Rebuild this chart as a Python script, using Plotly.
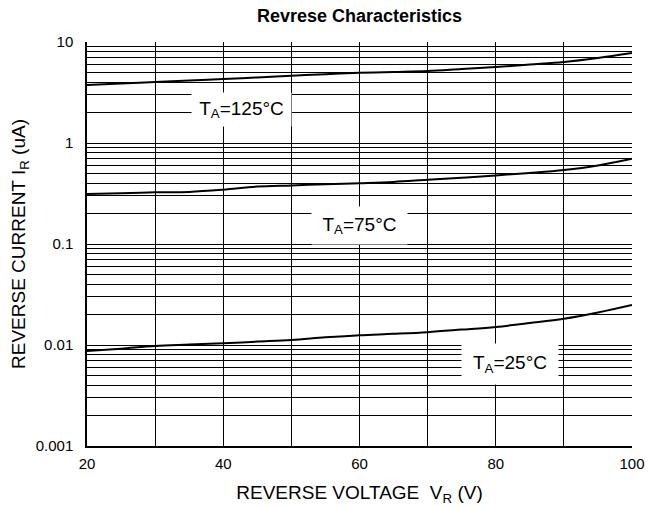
import plotly.graph_objects as go

# Data
vr = [20, 25, 30, 35, 40, 45, 50, 55, 60, 65, 70, 75, 80, 85, 90, 95, 100]
ir_125 = [3.75, 3.88, 4.02, 4.15, 4.30, 4.46, 4.64, 4.80, 4.95, 5.05, 5.16, 5.40, 5.65, 5.98, 6.34, 6.95, 7.78]
ir_75 = [0.313, 0.318, 0.325, 0.328, 0.345, 0.370, 0.380, 0.390, 0.400, 0.412, 0.432, 0.452, 0.478, 0.505, 0.540, 0.600, 0.700]
ir_25 = [0.0087, 0.0092, 0.0098, 0.0101, 0.0104, 0.0108, 0.0112, 0.0119, 0.0125, 0.0129, 0.0134, 0.0142, 0.0151, 0.0165, 0.0182, 0.0210, 0.0249]

x_gridvals = [20, 30, 40, 50, 60, 70, 80, 90, 100]
x_ticklabels = ["20", " ", "40", " ", "60", " ", "80", " ", "100"]

y_decades = [0.001, 0.01, 0.1, 1, 10]
y_decade_labels = ["0.001", "0.01", "0.1", "1", "10"]
y_gridvals = [m * d for d in y_decades[:-1] for m in range(1, 10)] + [y_decades[-1]]
y_ticklabels = [(y_decade_labels[y_decades.index(v)] if v in y_decades else " ") for v in y_gridvals]

series = [("T<sub>A</sub>=125°C", ir_125, 42.7, 0.332, 97, 31),
          ("T<sub>A</sub>=75°C", ir_75, 60.0, -0.817, 93, 35),
          ("T<sub>A</sub>=25°C", ir_25, 82.1, -2.188, 94, 38)]

FONT = "Liberation Sans, Arial, Helvetica, sans-serif"

# page body adds an 8px offset; the figure is sized so the plot lands where the reference has it
W, H = 648, 498

fig = go.Figure()
for name, ys, *_ in series:
    fig.add_trace(go.Scatter(x=vr, y=ys, mode="lines", line=dict(color="black", width=2, shape="spline"),
                             name=name, showlegend=False, hoverinfo="skip"))

for name, ys, ax, ay, w, h in series:
    fig.add_annotation(x=ax, y=ay, xref="x", yref="y", text=name, showarrow=False,
                       bgcolor="white", width=w, height=h,
                       font=dict(family=FONT, size=19, color="black"))

fig.update_layout(
    width=W, height=H,
    margin=dict(l=79, r=24, t=34, b=60, autoexpand=False),
    paper_bgcolor="white", plot_bgcolor="white",
    title=dict(text="<b>Revrese Characteristics</b>", x=(79 + 545 / 2) / W, xanchor="center",
               y=1 - 8 / H, yanchor="middle", yref="container", automargin=False,
               font=dict(family=FONT, size=18, color="black")),
    font=dict(family=FONT, color="black"),
)
fig.update_xaxes(range=[20, 100], tickvals=x_gridvals, ticktext=x_ticklabels,
                 showgrid=True, gridcolor="black", gridwidth=1,
                 showline=True, linecolor="black", linewidth=1.5, mirror=False,
                 zeroline=False, ticks="", tickfont=dict(size=15), automargin=False,
                 ticklabelstandoff=3,
                 title=dict(text="REVERSE VOLTAGE&nbsp; V<sub>R</sub> (V)", font=dict(size=19), standoff=18))
fig.update_yaxes(type="log", range=[-3, 1], tickvals=y_gridvals, ticktext=y_ticklabels,
                 showgrid=True, gridcolor="black", gridwidth=1,
                 showline=True, linecolor="black", linewidth=1.5,
                 zeroline=False, ticks="", tickfont=dict(size=15), automargin=False,
                 ticklabelstandoff=9,
                 title=dict(text="REVERSE CURRENT I<sub>R</sub> (uA)", font=dict(size=19), standoff=5))

fig.write_html("out.html")
